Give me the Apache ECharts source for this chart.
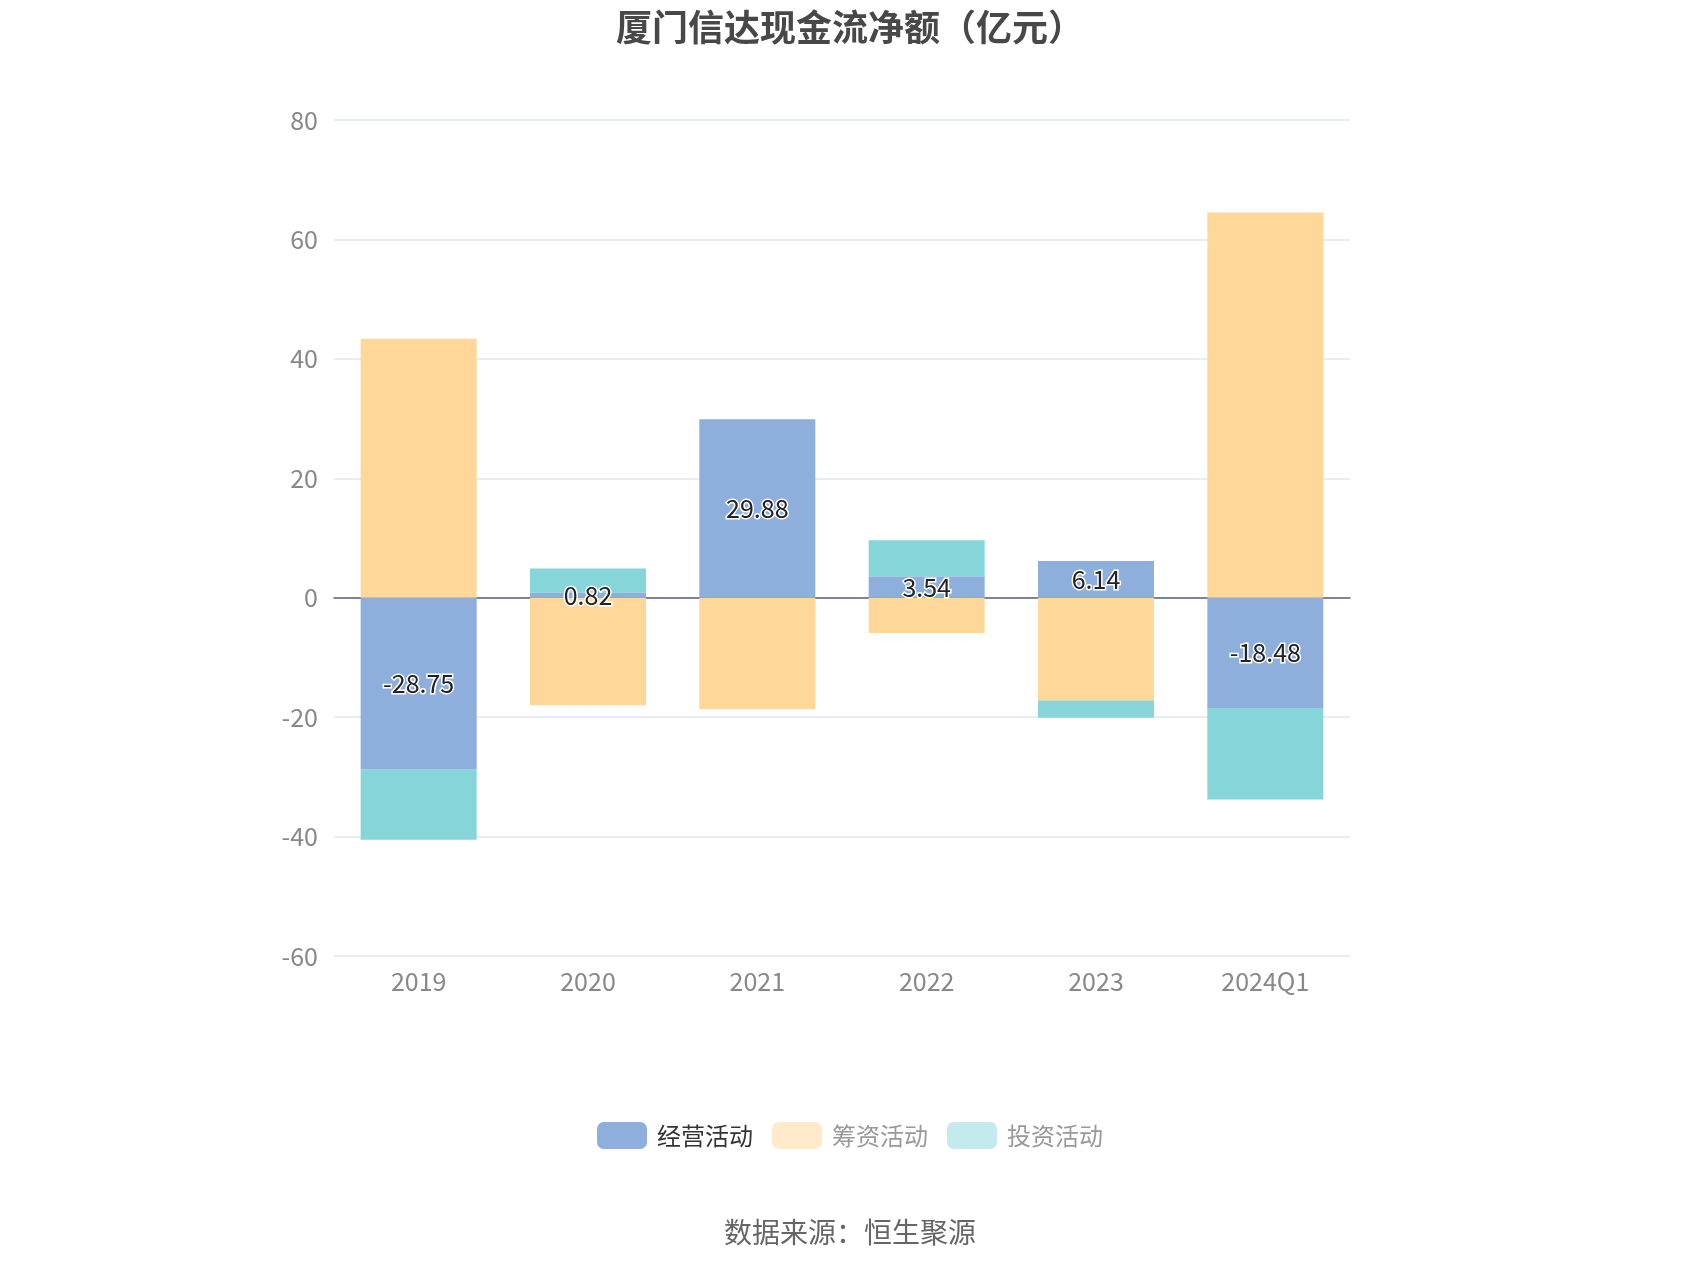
<!DOCTYPE html>
<html>
<head>
<meta charset="utf-8">
<title>厦门信达现金流净额</title>
<script src="https://cdn.jsdelivr.net/npm/echarts@6/dist/echarts.min.js"></script>
<style>
    html, body { margin: 0; padding: 0; background: #fff; }
    #main { width: 1700px; height: 1274px; }
</style>
</head>
<body>
<div id="main"></div>
<script>
// 年份
var years = ['2019', '2020', '2021', '2022', '2023', '2024Q1'];
// 经营活动现金流净额（亿元）
var operating = [-28.75, 0.82, 29.88, 3.54, 6.14, -18.48];
// 筹资活动
var financing = [43.36, -18.0, -18.67, -5.9, -17.2, 64.5];
// 投资活动
var investing = [-11.8, 4.07, 0, 6.1, -2.9, -15.3];
var yTicks = [-60, -40, -20, 0, 20, 40, 60, 80];

var fontFamily = '"Noto Sans CJK SC", "Noto Sans", sans-serif';

var myChart = echarts.init(document.getElementById('main'));

var option = {
    textStyle: { fontFamily: fontFamily },
    title: {
        text: '厦门信达现金流净额（亿元）',
        left: 'center',
        top: 4,
        textStyle: {
            fontSize: 36,
            fontWeight: 'bold',
            color: '#484848',
            fontFamily: fontFamily
        }
    },
    legend: {
        bottom: 120,
        left: 'center',
        itemWidth: 50,
        itemHeight: 27,
        itemGap: 19,
        textStyle: { fontSize: 24, color: '#333', padding: [0, 0, 0, 5], fontFamily: fontFamily },
        data: [
            { name: '经营活动', itemStyle: { color: '#8eaedb' }, textStyle: { color: '#333' } },
            { name: '筹资活动', itemStyle: { color: '#ffebcc' }, textStyle: { color: '#999' } },
            { name: '投资活动', itemStyle: { color: '#c3eaec' }, textStyle: { color: '#999' } }
        ]
    },
    graphic: [{
        type: 'text',
        left: 'center',
        top: 1218,
        style: {
            text: '数据来源：恒生聚源',
            fontSize: 28,
            fill: '#666',
            fontFamily: fontFamily
        }
    }],
    grid: {
        left: 334,
        right: 350,
        top: 120,
        bottom: 318,
        containLabel: false
    },
    xAxis: {
        type: 'category',
        data: years,
        axisTick: { show: false },
        axisLine: { onZero: true, lineStyle: { color: '#5c6076', width: 1.5 } },
        axisLabel: {
            interval: 0,
            margin: 13,
            fontSize: 25,
            color: '#888',
            fontFamily: fontFamily
        }
    },
    yAxis: {
        type: 'value',
        min: yTicks[0],
        max: yTicks[yTicks.length - 1],
        interval: 20,
        axisLine: { show: false },
        axisTick: { show: false },
        axisLabel: {
            margin: 16,
            fontSize: 25,
            color: '#888',
            fontFamily: fontFamily
        },
        splitLine: { lineStyle: { color: '#e0e6f1', width: 1.5 } }
    },
    series: [
        {
            name: '经营活动',
            type: 'bar',
            stack: 'total',
            barWidth: '68.5%',
            data: operating,
            itemStyle: { color: '#8eaedb' },
            label: {
                show: true,
                position: 'inside',
                fontSize: 25,
                color: '#222',
                textBorderColor: '#fff',
                textBorderWidth: 3,
                fontFamily: fontFamily
            },
            z: 3
        },
        {
            name: '筹资活动',
            type: 'bar',
            stack: 'total',
            data: financing,
            itemStyle: { color: '#ffd899' }
        },
        {
            name: '投资活动',
            type: 'bar',
            stack: 'total',
            data: investing,
            itemStyle: { color: '#86d5d8' }
        }
    ]
};

myChart.setOption(option);
</script>
</body>
</html>
